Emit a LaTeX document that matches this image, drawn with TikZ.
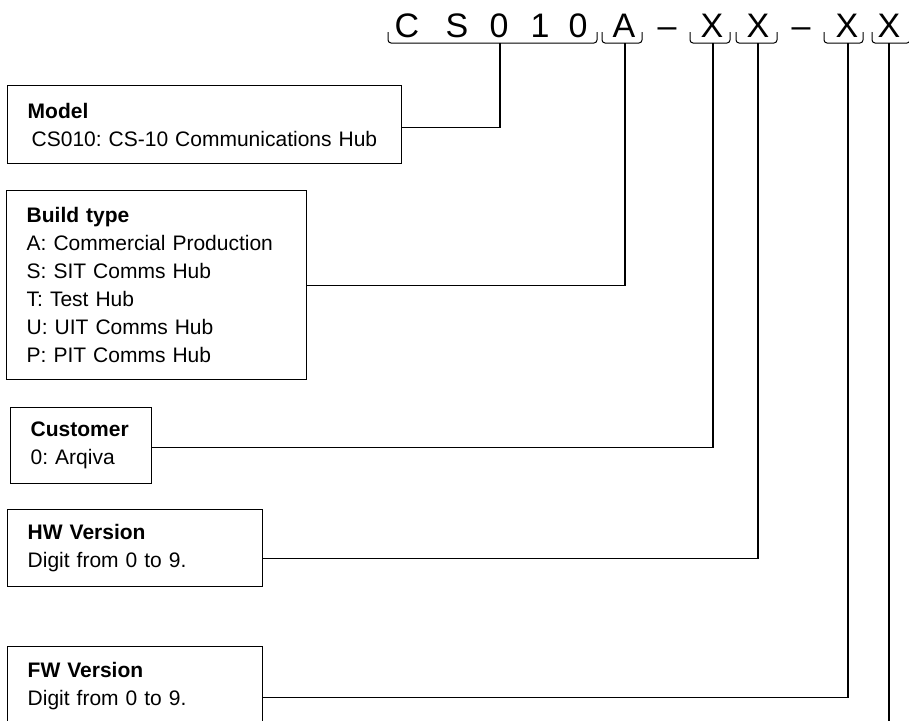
\documentclass[tikz,border=0pt]{standalone}
\usepackage{fontspec}
\setmainfont{Liberation Sans}
\frenchspacing
\begin{document}
\frenchspacing
\begin{tikzpicture}[x=1pt,y=-1pt,
  box/.style={draw, line width=1.4pt, rectangle, anchor=north west, inner xsep=20pt, inner ysep=0pt, align=left, font=\fontsize{21}{28}\selectfont\frenchspacing},
  code/.style={anchor=base, inner sep=0pt, font=\fontsize{34}{40}\selectfont},
  brk/.style={line width=1pt, rounded corners=3pt},
  link/.style={line width=1.2pt}]
\useasboundingbox (0,0) rectangle (909,720);

% code characters
\node[code] (c1) at (407,37) {C};
\node[code] (c2) at (457,37) {S};
\node[code] (c3) at (499,37) {0};
\node[code] (c4) at (540,37) {1};
\node[code] (c5) at (578,37) {0};
\node[code] (c6) at (624,37) {A};
\node[code] (d1) at (667,37) {–};
\node[code] (c7) at (712,37) {X};
\node[code] (c8) at (758,37) {X};
\node[code] (d2) at (801,37) {–};
\node[code] (c9) at (847,37) {X};
\node[code] (c10) at (889,37) {X};

% brackets
\draw[brk] (388,32) -- (388,43) -- (597,43) -- (597,32);
\draw[brk] (602,32) -- (602,43) -- (642,43) -- (642,32);
\draw[brk] (690,32) -- (690,43) -- (730,43) -- (730,32);
\draw[brk] (736,32) -- (736,43) -- (777,43) -- (777,32);
\draw[brk] (824,32) -- (824,43) -- (863,43) -- (863,32);
\draw[brk] (872,32) -- (872,43) -- (910,43) -- (910,32);

\coordinate (sCS) at (500,43);
\coordinate (sA) at (625,43);
\coordinate (sX1) at (713,43);
\coordinate (sX2) at (758,43);
\coordinate (sX3) at (848,43);
\coordinate (sX4) at (889,43);
\coordinate (eX4) at (889,725);

% boxes
\node[box, minimum width=394, minimum height=78, text width=354] (model) at (7,85)
  {\textbf{Model}\\\hspace*{4pt}CS010: CS-10 Communications Hub};
\node[box, minimum width=300, minimum height=189, text width=260] (build) at (6,190)
  {\textbf{Build type}\\A: Commercial Production\\S: SIT Comms Hub\\T: Test Hub\\U: UIT Comms Hub\\P: PIT Comms Hub};
\node[box, minimum width=141, minimum height=76, text width=101] (cust) at (10,407)
  {\textbf{Customer}\\0: Arqiva};
\node[box, minimum width=255, minimum height=77, text width=215] (hw) at (7,509)
  {\textbf{HW Version}\\Digit from 0 to 9.};
\node[box, minimum width=255, minimum height=78, text width=215] (fw) at (7,646)
  {\textbf{FW Version}\\Digit from 0 to 9.};

% connectors
\draw[link] ([yshift=-3pt]model.east) -| (sCS);
\draw[link] (build.east) -| (sA);
\draw[link] ([yshift=-2pt]cust.east) -| (sX1);
\draw[link] ([yshift=-10.5pt]hw.east) -| (sX2);
\draw[link] ([yshift=-12pt]fw.east) -| (sX3);
\draw[link] (sX4) -- (eX4);
\end{tikzpicture}
\end{document}
